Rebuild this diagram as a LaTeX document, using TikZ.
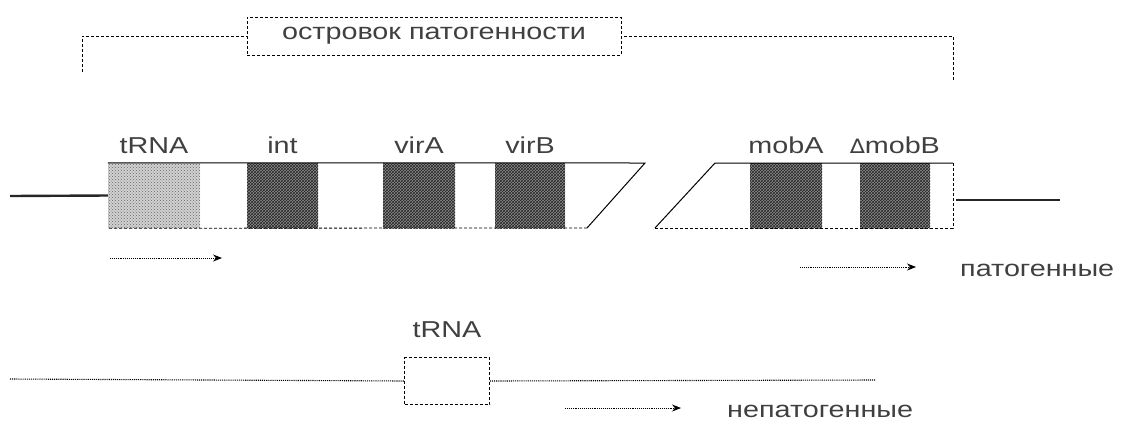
\documentclass[tikz,border=0pt]{standalone}
\usepackage{fontspec}
\setmainfont{Liberation Sans}
\newfontfamily\widefont[FakeStretch=1.25]{Liberation Sans}
\newfontfamily\symfont[FakeStretch=1.1]{DejaVu Sans}
\usetikzlibrary{patterns,arrows.meta}
\begin{document}
\begin{tikzpicture}[x=1pt,y=-1pt,
  txt/.style={font=\widefont\fontsize{23}{25}\selectfont, text=black!75, inner sep=0pt},
  dashline/.style={densely dashed, line width=0.8pt},
  dotline/.style={densely dotted, line width=1.1pt},
  genedark/.style={draw=none, fill=black!45, postaction={pattern=crosshatch, pattern color=black!85}, minimum height=65pt, inner sep=0pt},
  genelight/.style={draw=none, fill=black!18, postaction={pattern=crosshatch dots, pattern color=black!60}, minimum height=65pt, inner sep=0pt},
  genelbl/.style={txt, above=9pt},
  thick line/.style={line width=2.4pt, black!85},
  frame/.style={line width=1pt},
  arr/.style={densely dotted, line width=0.9pt, -{Stealth[length=9pt,width=7pt]}}
]
\useasboundingbox (0,0) rectangle (1131,421);

% pathogenicity island bracket
\node[txt, draw=black, dashline, minimum width=374pt, minimum height=38pt, inner sep=0pt] (island) at (434,36) {островок патогенности};
\coordinate (bl) at (82,72);
\coordinate (br) at (953,80);
\draw[dashline] (bl) |- (island.west);
\draw[dashline] (br) |- (island.east);

% genes
\node[genelight, minimum width=92pt] (trna) at (154,195.5) {};
\node[genedark, minimum width=71pt] (int) at (282.5,195.5) {};
\node[genedark, minimum width=72pt] (vira) at (419,195.5) {};
\node[genedark, minimum width=70pt] (virb) at (530,195.5) {};
\node[genedark, minimum width=72pt] (moba) at (786,195.5) {};
\node[genedark, minimum width=70pt] (mobb) at (895,195.5) {};

\node[genelbl] (ltrna) at (trna.north) {tRNA};
\node[genelbl] (lint) at (int.north) {int};
\node[genelbl] (lvira) at (vira.north) {virA};
\node[genelbl] (lvirb) at (virb.north) {virB};
\node[genelbl] (lmoba) at (moba.north) {mobA};
\node[genelbl] (lmobb) at (mobb.north) {{\symfont\fontsize{20}{22}\selectfont ∆}mobB};

% left fragment outline
\coordinate (cutLt) at (645,163);
\coordinate (cutLb) at (587,228);
\draw[frame] (trna.north west) -- (cutLt) -- (cutLb);
\draw[frame, dashline] (cutLb) -- (trna.south west);
% right fragment outline
\coordinate (cutRt) at (715,163);
\coordinate (cutRb) at (655,228);
\coordinate (rt) at (953,163);
\coordinate (rb) at (953,228);
\draw[frame] (cutRb) -- (cutRt) -- (rt);
\draw[frame, dashline] (rt) -- (rb) -- (cutRb);

% flanking chromosome
\coordinate (lend) at (10,196);
\coordinate (rend) at (1060,200);
\coordinate (rstart) at (956,200);
\draw[thick line] (lend) -- (trna.west);
\draw[thick line] (rstart) -- (rend);

% direction arrows
\coordinate (a1s) at (110,258); \coordinate (a1e) at (222,258);
\coordinate (a2s) at (800,267); \coordinate (a2e) at (916,267);
\draw[arr] (a1s) -- (a1e);
\draw[arr] (a2s) -- (a2e);
\node[txt, anchor=west] (pat) at (960,270) {патогенные};

% non-pathogenic
\node[draw=black, dashline, minimum width=85pt, minimum height=47pt, inner sep=0pt] (btrna) at (447,381) {};
\node[genelbl, above=10pt] (lbtrna) at (btrna.north) {tRNA};
\coordinate (bl0) at (10,379);
\coordinate (br0) at (875,380);
\draw[dotline] (bl0) -- (btrna.west);
\draw[dotline] (btrna.east) -- (br0);
\coordinate (a3s) at (565,408); \coordinate (a3e) at (681,408);
\draw[arr] (a3s) -- (a3e);
\node[txt, anchor=west] (npat) at (727,411) {непатогенные};
\end{tikzpicture}
\end{document}
